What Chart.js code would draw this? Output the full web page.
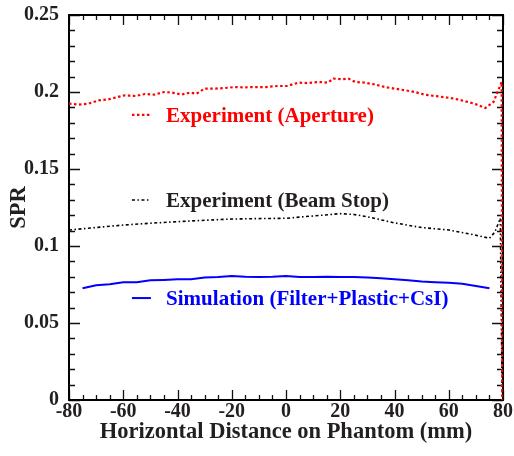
<!DOCTYPE html>
<html><head><meta charset="utf-8">
<script src="https://cdn.jsdelivr.net/npm/chart.js@4/dist/chart.umd.min.js"></script>
<style>html,body{margin:0;padding:0;background:#fff}canvas{display:block}</style>
</head><body>
<canvas id="c" width="514" height="456"></canvas>
<script>
// ---- data ----
const apertureX = [-80,-76.5,-73,-69,-65.5,-62,-59.5,-55.5,-52,-48.5,-45,-42,-38.5,-35.5,-33,-30,-26,-22.5,-19,-15,-12.5,-7.5,-3,0.5,4.5,8,12,15.5,17.5,20.5,23,25.5,29,33,36.5,40,44,47.5,51,55,58.5,62,66,69.5,73.5,76.5,79,79.5,79.7];
const apertureY = [0.1924,0.1918,0.1924,0.1946,0.1952,0.1968,0.1978,0.1974,0.1987,0.1983,0.2,0.1996,0.1983,0.1996,0.1989,0.2022,0.2022,0.2026,0.2032,0.2030,0.2032,0.2032,0.2039,0.2039,0.2061,0.2058,0.2065,0.2061,0.2087,0.2083,0.2087,0.2065,0.2061,0.2048,0.2032,0.2022,0.2011,0.2,0.1983,0.1974,0.1966,0.1957,0.1940,0.1924,0.1896,0.1935,0.2043,0.2065,0];
const beamStopX = [-80,-70,-60,-50,-40,-30,-20,-10,0,10,20,25,30,40,50,60,70,75,77,79,79.7];
const beamStopY = [0.1104,0.112,0.1136,0.1148,0.1158,0.1167,0.1175,0.1178,0.118,0.1195,0.121,0.1205,0.119,0.115,0.112,0.1104,0.107,0.105,0.109,0.118,0];
const simX = [-75,-70,-65,-60,-55,-50,-45,-40,-35,-30,-25,-20,-15,-10,-5,0,5,10,15,20,25,30,35,40,45,50,55,60,65,70,75];
const simY = [0.0725,0.0745,0.0752,0.0764,0.0765,0.0777,0.078,0.0784,0.0784,0.0796,0.0798,0.0805,0.0800,0.0799,0.080,0.0805,0.0799,0.0799,0.08,0.0799,0.0799,0.0795,0.0790,0.0784,0.0778,0.0769,0.0765,0.0762,0.0755,0.074,0.0725];
const seriesLabels = ['Experiment (Aperture)','Experiment (Beam Stop)','Simulation (Filter+Plastic+CsI)'];
const xTitle = 'Horizontal Distance on Phantom (mm)';
const yTitle = 'SPR';

const pts = (xs, ys) => xs.map((x, i) => ({x, y: ys[i]}));
const SERIF = "'Liberation Serif','Times New Roman',serif";
const TXT = '#231f20';

const frameTicks = {
  id: 'frameTicks',
  beforeDatasetsDraw(chart) {
    const {ctx, chartArea: a, scales: {x, y}} = chart;
    ctx.save();
    ctx.strokeStyle = '#111';
    ctx.lineWidth = 1.3;
    ctx.beginPath();
    for (let i = 0; i <= 32; i++) {
      const v = -80 + i * 5;
      const px = Math.round(x.getPixelForValue(v)) + 0.5;
      const len = (i % 4 === 0) ? 10 : 5;
      ctx.moveTo(px, a.bottom); ctx.lineTo(px, a.bottom - len);
      ctx.moveTo(px, a.top); ctx.lineTo(px, a.top + len);
    }
    for (let i = 0; i <= 25; i++) {
      const v = i * 0.01;
      const py = Math.round(y.getPixelForValue(v)) + 0.5;
      const len = (i % 5 === 0) ? 11 : 6;
      ctx.moveTo(a.left, py); ctx.lineTo(a.left + len, py);
      ctx.moveTo(a.right, py); ctx.lineTo(a.right - len, py);
    }
    ctx.stroke();
    ctx.lineWidth = 2;
    ctx.strokeStyle = '#000';
    ctx.strokeRect(a.left, a.top, a.right - a.left, a.bottom - a.top);
    ctx.restore();
  },
  afterDatasetsDraw(chart) {
    const {ctx, scales: {x, y}} = chart;
    const ds = chart.data.datasets;
    const rows = [0.1851, 0.1299, 0.0662];
    ctx.save();
    ds.forEach((d, i) => {
      const py = y.getPixelForValue(rows[i]);
      ctx.strokeStyle = d.borderColor;
      ctx.lineWidth = d.borderWidth;
      ctx.setLineDash(d.borderDash || []);
      ctx.beginPath();
      ctx.moveTo(x.getPixelForValue(-56.8), py);
      ctx.lineTo(x.getPixelForValue(-49.8), py);
      ctx.stroke();
      ctx.setLineDash([]);
      ctx.fillStyle = d.borderColor === '#000000' ? TXT : d.borderColor;
      ctx.font = "bold 21px " + SERIF;
      ctx.textBaseline = 'alphabetic';
      ctx.textAlign = 'left';
      ctx.fillText(d.label, x.getPixelForValue(-44.2), py + 7);
    });
    ctx.restore();
  }
};

new Chart(document.getElementById('c'), {
  type: 'line',
  data: {
    datasets: [
      {label: seriesLabels[0], data: pts(apertureX, apertureY), borderColor: '#ff0000', borderWidth: 2.2, borderDash: [2.5, 2.5], pointRadius: 0, fill: false, tension: 0},
      {label: seriesLabels[1], data: pts(beamStopX, beamStopY), borderColor: '#000000', borderWidth: 1.6, borderDash: [3, 2.5, 1.5, 2.5], pointRadius: 0, fill: false, tension: 0},
      {label: seriesLabels[2], data: pts(simX, simY), borderColor: '#0000ff', borderWidth: 2, pointRadius: 0, fill: false, tension: 0}
    ]
  },
  options: {
    responsive: false,
    animation: false,
    devicePixelRatio: 1,
    layout: {padding: {top: 15, right: 11, left: 0, bottom: 0}},
    plugins: {legend: {display: false}, tooltip: {enabled: false}},
    scales: {
      x: {
        type: 'linear', min: -80, max: 80,
        grid: {display: false, drawTicks: false},
        border: {display: false},
        ticks: {stepSize: 20, padding: 0, color: TXT, font: {family: SERIF, size: 20, weight: 'bold'}, callback: v => String(v), maxRotation: 0},
        title: {display: true, text: xTitle, color: TXT, font: {family: SERIF, size: 22.5, weight: 'bold'}, padding: {top: 0, bottom: 10}},
        afterFit: s => { s.height = 56; s.paddingLeft = 0; s.paddingRight = 0; }
      },
      y: {
        type: 'linear', min: 0, max: 0.25,
        grid: {display: false, drawTicks: false},
        border: {display: false},
        ticks: {stepSize: 0.05, padding: 10, color: TXT, font: {family: SERIF, size: 20, weight: 'bold'}, callback: v => String(+v.toFixed(2))},
        title: {display: true, text: yTitle, color: TXT, font: {family: SERIF, size: 22.5, weight: 'bold'}, padding: {top: 6, bottom: 0}},
        afterFit: s => { s.width = 69; s.paddingTop = 0; s.paddingBottom = 0; }
      }
    }
  },
  plugins: [frameTicks]
});
</script>
</body></html>
